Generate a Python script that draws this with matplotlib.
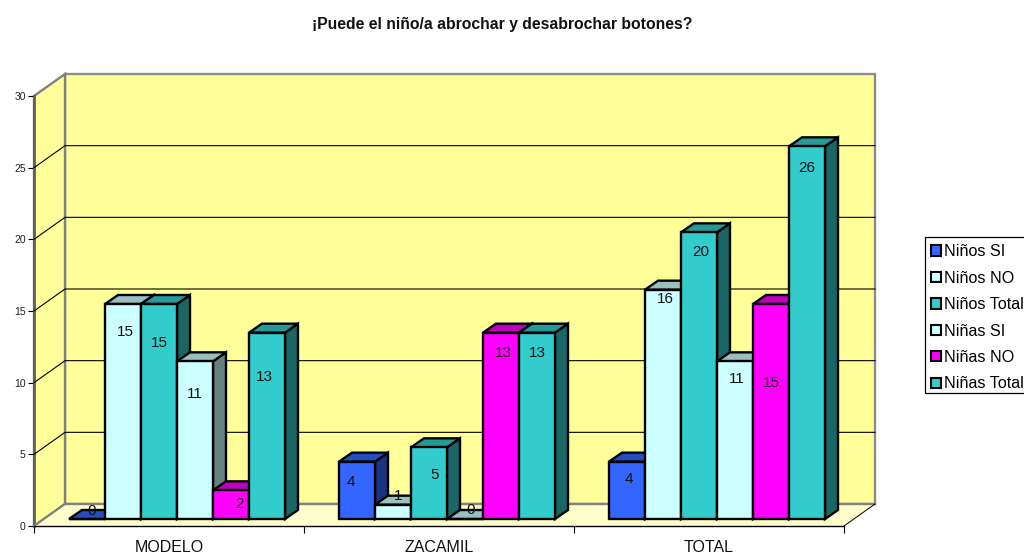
import matplotlib
matplotlib.use('Agg')
import matplotlib.pyplot as plt
from matplotlib.patches import Patch, Polygon, Rectangle

plt.rcParams['font.family'] = ['Liberation Sans', 'DejaVu Sans']

categories = ['MODELO', 'ZACAMIL', 'TOTAL']
series_names = ['Niños SI', 'Niños NO', 'Niños Total', 'Niñas SI', 'Niñas NO', 'Niñas Total']
ninos_si = [0, 4, 4]
ninos_no = [15, 1, 16]
ninos_total = [15, 5, 20]
ninas_si = [11, 0, 11]
ninas_no = [2, 13, 15]
ninas_total = [13, 13, 26]
all_series = [ninos_si, ninos_no, ninos_total, ninas_si, ninas_no, ninas_total]
y_ticks = [0, 5, 10, 15, 20, 25, 30]

# front, top and side colours of each series
front_colors = ['#3366FF', '#CCFFFF', '#33CCCC', '#CCFFFF', '#FF00FF', '#33CCCC']
top_colors = ['#264DBF', '#99BFBF', '#269999', '#99BFBF', '#BF00BF', '#269999']
side_colors = ['#1A3380', '#668080', '#1A6666', '#668080', '#800080', '#1A6666']

# label shift from the bar's front top centre, in pixels (right, down)
label_shift = [
    [[5, -8], [-6, 20], [2, 17]],
    [[2, 28], [5, -9], [2, 9]],
    [[0, 39], [6, 28], [2, 20]],
    [[0, 33], [6, -9], [2, 18]],
    [[8, 14], [2, 20], [0, 79]],
    [[-3, 44], [0, 20], [0, 22]],
]

W, H = 1024, 553
fig = plt.figure(figsize=(W / 100, H / 100), dpi=100)
ax = fig.add_axes([34 / W, (H - 526) / H, 810 / W, 430 / H])
ax.set_xlim(0, 3)
ax.set_ylim(0, 30)
ax.patch.set_visible(False)
for s in ax.spines.values():
    s.set_visible(False)

# one pixel in data units
px = 3 / 810
py = 30 / 430
wall_dx, wall_dy = 31 * px, 22 * py
bar_dx, bar_dy = 13 * px, 9 * py
bar_w = 36 * px
bar_left = 35 * px
bar_base = 7 * py
edge_lw = 1.7


def poly(pts, fc, ec='none', lw=0, z=1):
    ax.add_patch(Polygon(pts, closed=True, facecolor=fc, edgecolor=ec, linewidth=lw,
                         zorder=z, clip_on=False, joinstyle='miter'))


# walls and floor
poly([(wall_dx, wall_dy), (3 + wall_dx, wall_dy), (3 + wall_dx, 30 + wall_dy), (wall_dx, 30 + wall_dy)],
     '#FFFF99', '#8C8C8C', 1.7, 1)
poly([(0, 0), (wall_dx, wall_dy), (wall_dx, 30 + wall_dy), (0, 30)], '#FFFF99', '#808080', 1.7, 1)
poly([(0, 0), (3, 0), (3 + wall_dx, wall_dy), (wall_dx, wall_dy)], '#FFFFCC', 'none', 0, 2)
ax.plot([0, 0], [0, 30], color='#606060', lw=2, zorder=3, clip_on=False)
ax.plot([wall_dx, 3 + wall_dx], [wall_dy, wall_dy], color='#808080', lw=1.7, zorder=3, clip_on=False)
ax.plot([3, 3 + wall_dx], [0, wall_dy], color='black', lw=0.7, zorder=3, clip_on=False)
ax.plot([0, wall_dx], [0, wall_dy], color='#808080', lw=1.5, zorder=3, clip_on=False)
ax.plot([0, 3], [0, 0], color='black', lw=1, zorder=3, clip_on=False)

# gridlines on both walls
for v in y_ticks[1:-1]:
    ax.plot([0, wall_dx, 3 + wall_dx], [v, v + wall_dy, v + wall_dy], color='black', lw=0.8,
            zorder=3, clip_on=False)

# bars
z = 10
for i in range(len(categories)):
    for j, values in enumerate(all_series):
        v = values[i]
        x0 = i + bar_left + j * bar_w
        x1 = x0 + bar_w
        y0 = bar_base
        y1 = bar_base + v
        poly([(x1, y0), (x1 + bar_dx, y0 + bar_dy), (x1 + bar_dx, y1 + bar_dy), (x1, y1)],
             side_colors[j], 'black', edge_lw, z)
        poly([(x0, y1), (x1, y1), (x1 + bar_dx, y1 + bar_dy), (x0 + bar_dx, y1 + bar_dy)],
             top_colors[j], 'black', edge_lw, z)
        ax.bar(x0, v, width=bar_w, bottom=y0, align='edge', color=front_colors[j],
               edgecolor='black', linewidth=edge_lw, zorder=z + 1, clip_on=False)
        sx, sy = label_shift[j][i]
        ax.annotate(str(v), (x0 + bar_w / 2, y1), xytext=(sx * 0.72, -sy * 0.72),
                    textcoords='offset points', ha='center', va='center', fontsize=11,
                    color='#111111', zorder=100)
        z += 2

# axis ticks
ax.set_yticks(y_ticks)
ax.set_yticklabels([str(v) for v in y_ticks], fontsize=7.5, color='#222222')
ax.tick_params(axis='y', length=4.5, width=0.8, pad=1.5)
ax.set_xticks([0, 1, 2, 3])
ax.set_xticklabels([])
ax.set_xticks([0.5, 1.5, 2.5], minor=True)
ax.set_xticklabels(categories, minor=True, fontsize=11.5, color='#111111')
ax.tick_params(axis='x', which='major', length=5, width=0.8)
ax.tick_params(axis='x', which='minor', length=0, pad=10)

fig.text(502 / W, 1 - 24 / H, '¡Puede el niño/a abrochar y desabrochar botones?', ha='center', va='center',
         fontsize=11.3, fontweight='bold', color='#111111')

# legend box runs off the right edge of the figure, like the original
fig.add_artist(Rectangle((925 / W, 1 - 393 / H), 110 / W, 156 / H, transform=fig.transFigure,
                         facecolor='white', edgecolor='black', linewidth=0.9))
handles = [Patch(facecolor=c, edgecolor='black', linewidth=1.5) for c in front_colors]
fig.legend(handles, series_names, loc='upper left', bbox_to_anchor=(924 / W, 1 - 237 / H),
           borderaxespad=0, fontsize=11.6, frameon=False, handlelength=0.6, handleheight=0.6,
           handletextpad=0.2, labelspacing=0.71, borderpad=0.45)

fig.savefig('out.png', dpi=100)
